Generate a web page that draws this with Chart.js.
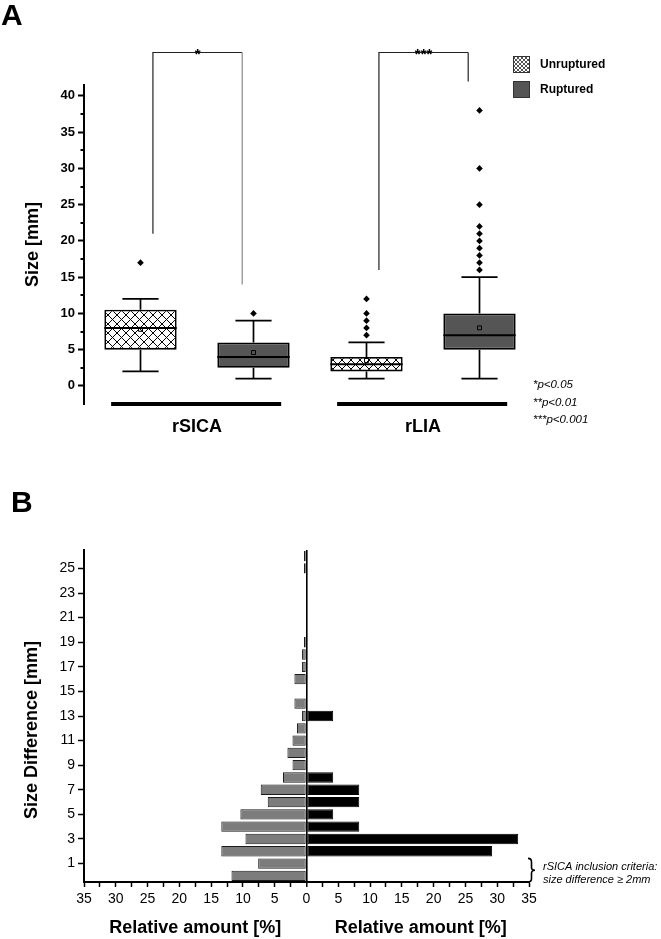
<!DOCTYPE html>
<html>
<head>
<meta charset="utf-8">
<script src="https://cdn.jsdelivr.net/npm/chart.js@4.4.1/dist/chart.umd.min.js"></script>
<style>
html,body{margin:0;padding:0;background:#fff;}
#wrap{position:relative;width:661px;height:939px;overflow:hidden;background:#fff;}
#ca{position:absolute;left:0;top:0;}
#cb{position:absolute;left:0;top:470px;}
</style>
</head>
<body>
<div id="wrap">
  <canvas id="ca" width="661" height="470"></canvas>
  <canvas id="cb" width="661" height="469"></canvas>
</div>
<script>
// ---------------- Panel A data ----------------
const boxCategories = ['rSICA Unruptured', 'rSICA Ruptured', 'rLIA Unruptured', 'rLIA Ruptured'];
const groupNames = ['rSICA', 'rLIA'];
const seriesNames = ['Unruptured', 'Ruptured'];
const whiskerLow  = [2, 1, 1, 1];
const q1          = [5, 2.5, 2, 5];
const medians     = [8, 4, 3, 7];
const q3          = [10.5, 6, 4, 10];
const whiskerHigh = [12, 9, 6, 15];
const means       = [7.8, 4.6, 3.5, 8.0];
const outliers    = [[17], [10], [7, 8, 9, 10, 12], [16, 17, 18, 19, 20, 21, 22, 25, 30, 38]];
const sizeTicks   = [0, 5, 10, 15, 20, 25, 30, 35, 40];
const sigMarks    = ['*', '***'];
const pLegend     = ['*p<0.05', '**p<0.01', '***p<0.001'];

// ---------------- Panel B data ----------------
const diffCategories = [0,1,2,3,4,5,6,7,8,9,10,11,12,13,14,15,16,17,18,19,20,21,22,23,24,25,26];
const leftPct  = [11.8, 7.6, 13.4, 9.6, 13.4, 10.4, 6.1, 7.2, 3.7, 2.2, 3.0, 2.2, 1.5, 0.7, 1.9, 0, 1.9, 0.7, 0.7, 0.4, 0, 0, 0, 0, 0, 0.4, 0.4];
const rightPct = [0, 0, 29.2, 33.3, 8.3, 4.2, 8.3, 8.3, 4.2, 0, 0, 0, 0, 4.2, 0, 0, 0, 0, 0, 0, 0, 0, 0, 0, 0, 0, 0];
const amountTicks = [0, 5, 10, 15, 20, 25, 30, 35];
const axisTitlesB = ['Size Difference [mm]', 'Relative amount [%]'];
const noteLines = ['rSICA inclusion criteria:', 'size difference \u2265 2mm'];

const FONT = "'Liberation Sans', Arial, Helvetica, sans-serif";
Chart.defaults.font.family = FONT;
Chart.defaults.color = '#000';

// patterns
function makeHatch(ctx, size, color, lw) {
  const c = document.createElement('canvas');
  c.width = size; c.height = size;
  const g = c.getContext('2d');
  g.fillStyle = '#fff'; g.fillRect(0, 0, size, size);
  g.strokeStyle = color; g.lineWidth = lw;
  g.beginPath();
  g.moveTo(-1, -1); g.lineTo(size + 1, size + 1);
  g.moveTo(size + 1, -1); g.lineTo(-1, size + 1);
  g.stroke();
  return ctx.createPattern(c, 'repeat');
}

const ctxA = document.getElementById('ca').getContext('2d');
const hatch = makeHatch(ctxA, 9, '#000', 1);
const legendHatch = makeHatch(ctxA, 4, '#555', 1);

const outlierPoints = [];
outliers.forEach((arr, i) => arr.forEach(v => outlierPoints.push({ x: boxCategories[i], y: v })));
const meanPoints = means.map((m, i) => ({ x: boxCategories[i], y: m }));

const boxPlugin = {
  id: 'boxExtras',
  beforeDatasetsDraw(chart) {
    const { ctx, scales: { x, y } } = chart;
    const catW = x.getPixelForValue(1) - x.getPixelForValue(0);
    const capHalf = catW * 0.64 * 0.25;
    ctx.save();
    ctx.strokeStyle = '#000';
    ctx.lineWidth = 1.7;
    for (let i = 0; i < boxCategories.length; i++) {
      const px = x.getPixelForValue(i);
      const yl = y.getPixelForValue(whiskerLow[i]);
      const yh = y.getPixelForValue(whiskerHigh[i]);
      ctx.beginPath();
      ctx.moveTo(px, y.getPixelForValue(q1[i])); ctx.lineTo(px, yl);
      ctx.moveTo(px, y.getPixelForValue(q3[i])); ctx.lineTo(px, yh);
      ctx.moveTo(px - capHalf, yl); ctx.lineTo(px + capHalf, yl);
      ctx.moveTo(px - capHalf, yh); ctx.lineTo(px + capHalf, yh);
      ctx.stroke();
    }
    ctx.restore();
  },
  afterDatasetDraw(chart, args) {
    if (args.index !== 0) return;
    const { ctx, scales: { y } } = chart;
    const meta = chart.getDatasetMeta(0);
    ctx.save();
    ctx.strokeStyle = '#000';
    ctx.lineWidth = 2;
    meta.data.forEach((bar, i) => {
      const half = bar.width / 2;
      const py = y.getPixelForValue(medians[i]);
      ctx.beginPath();
      ctx.moveTo(bar.x - half, py); ctx.lineTo(bar.x + half, py);
      ctx.stroke();
    });
    ctx.restore();
  },
  afterDraw(chart) {
    const { ctx, scales: { x, y } } = chart;
    const catW = x.getPixelForValue(1) - x.getPixelForValue(0);
    ctx.save();
    // panel letter
    ctx.fillStyle = '#000';
    ctx.font = `bold 30px ${FONT}`;
    ctx.textBaseline = 'alphabetic';
    ctx.textAlign = 'left';
    ctx.fillText('A', 1, 25);

    // minor ticks on y axis
    ctx.strokeStyle = '#000';
    ctx.lineWidth = 2;
    const ax = chart.chartArea.left;
    for (let v = 2.5; v < 40; v += 5) {
      const py = Math.round(y.getPixelForValue(v));
      ctx.beginPath(); ctx.moveTo(ax - 3.5, py); ctx.lineTo(ax, py); ctx.stroke();
    }

    // group lines and labels
    const yb = y.getPixelForValue(y.min);
    groupNames.forEach((g, gi) => {
      const x1 = x.getPixelForValue(gi * 2) - catW * 0.26;
      const x2 = x.getPixelForValue(gi * 2 + 1) + catW * 0.245;
      ctx.lineWidth = 4;
      ctx.beginPath(); ctx.moveTo(x1, yb); ctx.lineTo(x2, yb); ctx.stroke();
      ctx.font = `bold 18px ${FONT}`;
      ctx.textAlign = 'center';
      ctx.textBaseline = 'middle';
      ctx.fillText(g, (x.getPixelForValue(gi * 2) + x.getPixelForValue(gi * 2 + 1)) / 2, 427);
    });

    // significance brackets
    const brackets = [
      { l: 0.11, r: 0.9, top: 46, lb: 21, rb: 14, rc: '#8a8a8a' },
      { l: 2.11, r: 2.9, top: 46, lb: 16, rb: 42, rc: '#222' }
    ];
    brackets.forEach((b, bi) => {
      const xl = x.getPixelForValue(0) + b.l * catW;
      const xr = x.getPixelForValue(0) + b.r * catW;
      const yt = Math.round(y.getPixelForValue(b.top)) + 0.5;
      ctx.lineWidth = 1.2;
      ctx.strokeStyle = '#222';
      ctx.beginPath();
      ctx.moveTo(xl, y.getPixelForValue(b.lb)); ctx.lineTo(xl, yt); ctx.lineTo(xr, yt);
      ctx.stroke();
      ctx.strokeStyle = b.rc;
      ctx.beginPath();
      ctx.moveTo(xr, yt); ctx.lineTo(xr, y.getPixelForValue(b.rb));
      ctx.stroke();
      ctx.fillStyle = '#000';
      ctx.font = `bold 15px ${FONT}`;
      ctx.textAlign = 'center';
      ctx.textBaseline = 'alphabetic';
      ctx.fillText(sigMarks[bi], (xl + xr) / 2, yt + 6);
    });

    // legend
    ctx.strokeStyle = '#333';
    ctx.lineWidth = 1;
    ctx.fillStyle = legendHatch;
    ctx.fillRect(513, 56, 17, 17);
    ctx.strokeRect(513.5, 56.5, 16, 16);
    ctx.fillStyle = '#555';
    ctx.fillRect(513, 81, 17, 17);
    ctx.strokeRect(513.5, 81.5, 16, 16);
    ctx.fillStyle = '#000';
    ctx.font = `bold 12px ${FONT}`;
    ctx.textAlign = 'left';
    ctx.textBaseline = 'middle';
    ctx.fillText(seriesNames[0], 540, 64.5);
    ctx.fillText(seriesNames[1], 540, 89.5);

    // p-value legend
    ctx.font = `italic 11.5px ${FONT}`;
    pLegend.forEach((t, i) => ctx.fillText(t, 533, 385 + i * 17.5));
    ctx.restore();
  }
};

new Chart(ctxA, {
  type: 'bar',
  data: {
    labels: boxCategories,
    datasets: [
      {
        type: 'bar',
        label: 'IQR',
        data: q1.map((v, i) => [v, q3[i]]),
        backgroundColor: [hatch, '#555555', hatch, '#555555'],
        borderColor: '#000',
        borderWidth: 1.8,
        borderSkipped: false,
        barPercentage: 0.64,
        categoryPercentage: 1,
        order: 3
      },
      {
        type: 'line',
        label: 'Outliers',
        data: outlierPoints,
        showLine: false,
        pointStyle: 'rectRot',
        pointRadius: 3.3,
        backgroundColor: '#000',
        borderColor: '#000',
        borderWidth: 0,
        order: 1
      },
      {
        type: 'line',
        label: 'Mean',
        data: meanPoints,
        showLine: false,
        pointStyle: 'rect',
        pointRadius: 2.8,
        backgroundColor: 'rgba(0,0,0,0)',
        borderColor: '#000',
        borderWidth: 1,
        order: 0
      }
    ]
  },
  options: {
    responsive: false,
    animation: false,
    events: [],
    layout: { padding: { left: 0, right: 125, top: 85, bottom: 66 } },
    plugins: { legend: { display: false }, tooltip: { enabled: false } },
    scales: {
      x: { display: false, offset: true },
      y: {
        min: -2.5,
        max: 41.5,
        afterFit: s => { s.width = 84; },
        afterBuildTicks: s => { s.ticks = sizeTicks.map(v => ({ value: v })); },
        border: { display: true, color: '#000', width: 2 },
        grid: {
          drawOnChartArea: false,
          tickLength: 6,
          tickWidth: 2,
          tickColor: '#000'
        },
        ticks: {
          autoSkip: false,
          padding: 3,
          color: '#000',
          font: { size: 13, weight: 'bold' },
          callback: v => String(v)
        },
        title: {
          display: true,
          text: 'Size [mm]',
          color: '#000',
          font: { size: 18, weight: 'bold' },
          padding: { top: 22, bottom: 0 }
        }
      }
    }
  },
  plugins: [boxPlugin]
});

// ---------------- Panel B ----------------
const ctxB = document.getElementById('cb').getContext('2d');

const pyramidPlugin = {
  id: 'pyramidExtras',
  afterDraw(chart) {
    const { ctx, scales: { x, y } } = chart;
    ctx.save();
    ctx.fillStyle = '#000';
    ctx.font = `bold 30px ${FONT}`;
    ctx.textAlign = 'left';
    ctx.textBaseline = 'alphabetic';
    ctx.fillText('B', 11, 42);

    // y title
    ctx.save();
    ctx.translate(32, 260);
    ctx.rotate(-Math.PI / 2);
    ctx.font = `bold 18px ${FONT}`;
    ctx.textAlign = 'center';
    ctx.textBaseline = 'middle';
    ctx.fillText(axisTitlesB[0], 0, 0);
    ctx.restore();

    // x titles
    ctx.font = `bold 18px ${FONT}`;
    ctx.textAlign = 'center';
    ctx.textBaseline = 'middle';
    const x0 = x.getPixelForValue(0);
    ctx.fillText(axisTitlesB[1], (x.getPixelForValue(-35) + x0) / 2, 458);
    ctx.fillText(axisTitlesB[1], (x.getPixelForValue(35) + x0) / 2 + 3, 458);

    // brace for categories 0-1
    const cat = Math.abs(y.getPixelForValue(1) - y.getPixelForValue(0));
    const yTop = y.getPixelForValue(1) - cat / 2 + 1;
    const yBot = y.getPixelForValue(0) + cat / 2;
    const yMid = (yTop + yBot) / 2;
    const bx = 528;
    ctx.strokeStyle = '#000';
    ctx.lineWidth = 1.6;
    ctx.beginPath();
    ctx.moveTo(bx, yTop);
    ctx.quadraticCurveTo(bx + 3.5, yTop, bx + 3.5, yTop + 3.5);
    ctx.lineTo(bx + 3.5, yMid - 3);
    ctx.quadraticCurveTo(bx + 3.5, yMid, bx + 7, yMid);
    ctx.quadraticCurveTo(bx + 3.5, yMid, bx + 3.5, yMid + 3);
    ctx.lineTo(bx + 3.5, yBot - 3.5);
    ctx.quadraticCurveTo(bx + 3.5, yBot, bx, yBot);
    ctx.stroke();

    ctx.font = `italic 11px ${FONT}`;
    ctx.textAlign = 'left';
    ctx.fillText(noteLines[0], 543, 397);
    ctx.fillText(noteLines[1], 543, 409.5);
    ctx.restore();
  }
};

new Chart(ctxB, {
  type: 'bar',
  data: {
    labels: diffCategories.map(String),
    datasets: [
      {
        label: 'left',
        data: leftPct.map(v => v === 0 ? null : -v),
        backgroundColor: '#7c7c7c',
        borderColor: '#1a1a1a',
        borderWidth: 1,
        borderSkipped: false,
        barPercentage: 0.84,
        categoryPercentage: 1
      },
      {
        label: 'right',
        data: rightPct.map(v => v === 0 ? null : v),
        backgroundColor: '#000',
        borderColor: '#000',
        borderWidth: 1,
        borderSkipped: false,
        barPercentage: 0.84,
        categoryPercentage: 1
      }
    ]
  },
  options: {
    indexAxis: 'y',
    responsive: false,
    animation: false,
    events: [],
    layout: { padding: { left: 0, right: 132, top: 80, bottom: 27 } },
    plugins: { legend: { display: false }, tooltip: { enabled: false } },
    scales: {
      x: {
        type: 'linear',
        min: -35,
        max: 35,
        stacked: true,
        afterFit: s => { s.height = 30; },
        border: { display: true, color: '#000', width: 2 },
        grid: {
          drawOnChartArea: true,
          color: c => (c.tick && c.tick.value === 0) ? '#000' : 'rgba(0,0,0,0)',
          lineWidth: c => (c.tick && c.tick.value === 0) ? 1.6 : 1,
          tickColor: '#000',
          tickLength: 5,
          tickWidth: 1.5
        },
        ticks: {
          stepSize: 2.5,
          autoSkip: false,
          maxRotation: 0,
          padding: 4,
          color: '#000',
          font: { size: 14 },
          callback: v => amountTicks.includes(Math.abs(v)) ? String(Math.abs(v)) : ''
        }
      },
      y: {
        stacked: true,
        reverse: true,
        afterFit: s => { s.width = 84; },
        border: { display: true, color: '#000', width: 2 },
        grid: {
          drawOnChartArea: false,
          offset: false,
          tickLength: 6,
          tickWidth: 1.5,
          tickColor: c => (diffCategories[c.index] % 2 === 1) ? '#000' : 'rgba(0,0,0,0)'
        },
        ticks: {
          autoSkip: false,
          padding: 3,
          color: '#000',
          font: { size: 14 },
          callback: (v, i) => (diffCategories[i] % 2 === 1) ? String(diffCategories[i]) : ''
        }
      }
    }
  },
  plugins: [pyramidPlugin]
});
</script>
</body>
</html>
